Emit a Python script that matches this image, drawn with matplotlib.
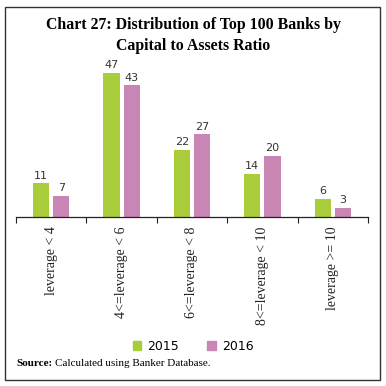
import matplotlib
matplotlib.use("Agg")
import matplotlib.pyplot as plt
from matplotlib.patches import Rectangle, Patch
import numpy as np

categories = ["leverage < 4", "4<=leverage < 6", "6<=leverage < 8",
              "8<=leverage < 10", "leverage >= 10"]
years = ["2015", "2016"]
vals_2015 = [11, 47, 22, 14, 6]
vals_2016 = [7, 43, 27, 20, 3]

GREEN = "#a8cc3a"
PINK = "#c985b3"
SERIF = "Liberation Serif"

fig = plt.figure(figsize=(3.86, 3.86), dpi=100)
W = H = 386.0

# outer frame
fig.patches.append(Rectangle((5 / W, 6 / H), 375 / W, 373 / H, transform=fig.transFigure,
                             fill=False, edgecolor="#333333", linewidth=1.0))

fig.text(0.5, 1 - 25 / H, "Chart 27: Distribution of Top 100 Banks by",
         ha="center", va="center", fontsize=11.4, fontweight="bold", family=SERIF)
fig.text(0.5, 1 - 46 / H, "Capital to Assets Ratio",
         ha="center", va="center", fontsize=11.4, fontweight="bold", family=SERIF)

ax = fig.add_axes([16 / W, 1 - 217 / H, 352 / W, 155 / H])
x = np.arange(len(categories))
bw = 0.23
off = 0.143
b1 = ax.bar(x - off, vals_2015, bw, color=GREEN, label=years[0])
b2 = ax.bar(x + off, vals_2016, bw, color=PINK, label=years[1])
ax.bar_label(b1, padding=2, fontsize=8, color="#333333")
ax.bar_label(b2, padding=2, fontsize=8, color="#333333")

ax.set_xlim(-0.5, len(categories) - 0.5)
ax.set_ylim(0, 50.6)
ax.set_yticks([])
for s in ["top", "right", "left"]:
    ax.spines[s].set_visible(False)
ax.spines["bottom"].set_color("#222222")
ax.spines["bottom"].set_linewidth(0.9)

ax.set_xticks(np.arange(len(categories) + 1) - 0.5)
ax.set_xticklabels([])
ax.tick_params(axis="x", direction="out", length=4, width=0.8, color="#222222")
for i, c in enumerate(categories):
    ax.text(i, -3.0, c, rotation=90, ha="center", va="top", fontsize=10,
            family=SERIF, color="#222222")

handles = [Patch(color=GREEN), Patch(color=PINK)]
fig.legend(handles, years, loc="center", bbox_to_anchor=(0.5, 1 - 346 / H), ncol=2,
           frameon=False, handlelength=0.7, handleheight=0.7,
           columnspacing=2.2, handletextpad=0.5, prop={"family": "DejaVu Sans", "size": 9})

src = fig.text(16 / W, 1 - 364 / H, "Source:", fontsize=8, fontweight="bold",
               family=SERIF, va="center")
fig.canvas.draw()
bb = src.get_window_extent()
fig.text((bb.x1 + 3) / W, 1 - 364 / H, "Calculated using Banker Database.", fontsize=8,
         family=SERIF, va="center")

fig.savefig("out.png", dpi=100)
